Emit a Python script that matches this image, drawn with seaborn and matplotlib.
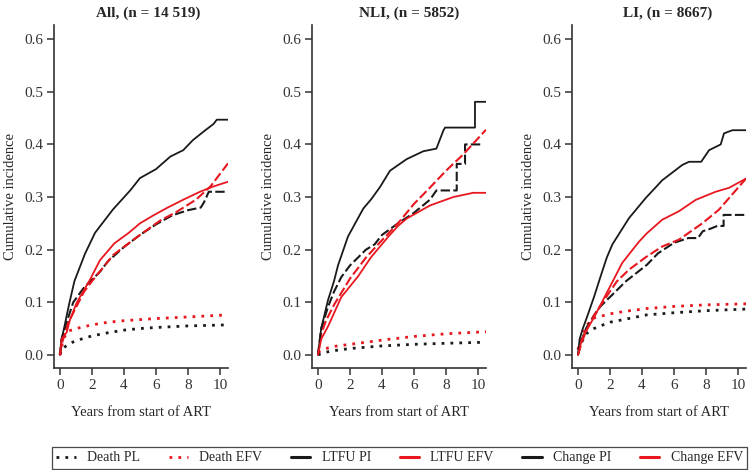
import matplotlib
matplotlib.use('Agg')
import matplotlib.pyplot as plt
from matplotlib.lines import Line2D
import numpy as np
import pandas as pd
import seaborn as sns

# ---- data ----
panel_titles = ['All, (n = 14 519)', 'NLI, (n = 5852)', 'LI, (n = 8667)']
series_names = ['Death PL', 'Death EFV', 'LTFU PI', 'LTFU EFV', 'Change PI', 'Change EFV']

# All
all_death_pi_t = [0, 0.1, 0.5, 1, 2, 3, 4, 5, 6, 8, 10.5]
all_death_pi_v = [0, 0.01, 0.02, 0.027, 0.036, 0.042, 0.047, 0.05, 0.052, 0.055, 0.057]
all_death_efv_t = [0, 0.2, 0.5, 1, 2, 3, 4, 5, 6, 8, 10.5]
all_death_efv_v = [0, 0.03, 0.045, 0.05, 0.057, 0.062, 0.065, 0.067, 0.069, 0.072, 0.076]
all_ltfu_pi_t = [0, 0.1, 0.25, 0.5, 0.83, 1.5, 2.5, 3, 4, 5, 6, 7, 8, 8.8, 9.0, 9.3, 10.5]
all_ltfu_pi_v = [0, 0.03, 0.045, 0.07, 0.10, 0.128, 0.158, 0.178, 0.205, 0.228, 0.248, 0.265, 0.275, 0.28, 0.29, 0.31, 0.31]
all_ltfu_efv_t = [0, 0.1, 0.25, 0.5, 1, 1.5, 2, 3.33, 5, 6.25, 7.3, 8.5, 9.4, 10.5]
all_ltfu_efv_v = [0, 0.02, 0.035, 0.06, 0.09, 0.12, 0.14, 0.19, 0.228, 0.255, 0.272, 0.295, 0.32, 0.364]
all_change_pi_t = [0, 0.1, 0.25, 0.56, 0.9, 1.56, 2.19, 3.3, 4.4, 5.0, 6.0, 6.9, 7.7, 8.3, 9.0, 9.6, 9.8, 10.5]
all_change_pi_v = [0, 0.03, 0.05, 0.095, 0.14, 0.192, 0.232, 0.276, 0.313, 0.336, 0.353, 0.377, 0.389, 0.408, 0.425, 0.439, 0.447, 0.447]
all_change_efv_t = [0, 0.1, 0.42, 0.625, 1.04, 1.875, 2.5, 3.4, 4.3, 5.0, 5.83, 6.67, 7.71, 8.75, 9.58, 10.5]
all_change_efv_v = [0, 0.03, 0.043, 0.067, 0.099, 0.143, 0.18, 0.212, 0.232, 0.25, 0.265, 0.279, 0.295, 0.310, 0.320, 0.329]

# NLI
nli_death_pi_t = [0, 0.5, 1, 2, 4, 6, 8, 10.5]
nli_death_pi_v = [0, 0.005, 0.008, 0.012, 0.017, 0.02, 0.022, 0.024]
nli_death_efv_t = [0, 0.5, 1, 2, 4, 6, 8, 10.5]
nli_death_efv_v = [0.005, 0.012, 0.016, 0.02, 0.028, 0.035, 0.04, 0.044]
nli_ltfu_pi_t = [0, 0.2, 0.625, 1, 1.46, 2, 3, 3.54, 4, 5, 6, 7, 7.4, 8.67, 8.67, 9.19, 9.19, 10.33]
nli_ltfu_pi_v = [0, 0.05, 0.091, 0.12, 0.148, 0.17, 0.2, 0.21, 0.228, 0.25, 0.27, 0.295, 0.3125, 0.3125, 0.363, 0.363, 0.40, 0.40]
nli_ltfu_efv_t = [0, 0.2, 0.5, 1, 2, 3, 4, 5, 6, 7, 8, 9.08, 10.5]
nli_ltfu_efv_v = [0, 0.04, 0.065, 0.095, 0.145, 0.185, 0.218, 0.25, 0.287, 0.318, 0.35, 0.381, 0.428]
nli_change_pi_t = [0, 0.2, 0.625, 1.0, 1.25, 1.875, 2.83, 3.33, 3.875, 4.5, 5.54, 6.58, 7.4, 7.83, 7.94, 9.81, 9.81, 10.5]
nli_change_pi_v = [0, 0.05, 0.104, 0.14, 0.17, 0.225, 0.278, 0.296, 0.319, 0.35, 0.372, 0.387, 0.392, 0.426, 0.432, 0.432, 0.481, 0.481]
nli_change_efv_t = [0, 0.2, 0.625, 1.46, 2.5, 3.3, 4.375, 5, 5.54, 7.0, 8.46, 9.7, 10.5]
nli_change_efv_v = [0, 0.03, 0.054, 0.11, 0.149, 0.185, 0.224, 0.245, 0.259, 0.284, 0.30, 0.308, 0.308]

# LI
li_death_pi_t = [0, 0.5, 1, 1.4, 2, 3, 4.3, 6, 8, 10.5]
li_death_pi_v = [0.01, 0.04, 0.05, 0.055, 0.062, 0.068, 0.076, 0.08, 0.084, 0.087]
li_death_efv_t = [0, 0.5, 1, 2, 3, 4.3, 6, 8, 10.5]
li_death_efv_v = [0.01, 0.055, 0.07, 0.078, 0.083, 0.088, 0.092, 0.095, 0.097]
li_ltfu_pi_t = [0, 0.25, 0.5, 1, 1.4, 2, 3, 4.3, 5, 6, 6.9, 7.5, 7.8, 8.3, 8.7, 9.1, 9.1, 10.5]
li_ltfu_pi_v = [0, 0.03, 0.05, 0.075, 0.092, 0.11, 0.14, 0.171, 0.193, 0.213, 0.222, 0.222, 0.235, 0.24, 0.245, 0.245, 0.266, 0.266]
li_ltfu_efv_t = [0, 0.25, 0.5, 1, 1.94, 2.44, 3.19, 4.3, 5.27, 6.31, 7.77, 8.81, 10.5]
li_ltfu_efv_v = [0, 0.025, 0.045, 0.075, 0.118, 0.14, 0.162, 0.187, 0.206, 0.219, 0.25, 0.276, 0.335]
li_change_pi_t = [0, 0.1, 0.3, 0.6, 1.0, 1.4, 1.8, 2.15, 3.19, 4.23, 5.27, 6.52, 6.94, 7.7, 8.19, 8.92, 9.125, 9.65, 10.5]
li_change_pi_v = [0, 0.03, 0.05, 0.075, 0.11, 0.148, 0.185, 0.21, 0.26, 0.298, 0.332, 0.361, 0.367, 0.367, 0.389, 0.40, 0.421, 0.427, 0.427]
li_change_efv_t = [0, 0.25, 0.5, 0.98, 1.8, 2.77, 3.81, 4.3, 5.27, 6.31, 7.35, 8.6, 9.44, 10.5]
li_change_efv_v = [0, 0.03, 0.045, 0.07, 0.118, 0.175, 0.215, 0.231, 0.257, 0.273, 0.2945, 0.310, 0.3175, 0.335]

panel_series = [
    [(all_death_pi_t, all_death_pi_v), (all_death_efv_t, all_death_efv_v),
     (all_ltfu_pi_t, all_ltfu_pi_v), (all_ltfu_efv_t, all_ltfu_efv_v),
     (all_change_pi_t, all_change_pi_v), (all_change_efv_t, all_change_efv_v)],
    [(nli_death_pi_t, nli_death_pi_v), (nli_death_efv_t, nli_death_efv_v),
     (nli_ltfu_pi_t, nli_ltfu_pi_v), (nli_ltfu_efv_t, nli_ltfu_efv_v),
     (nli_change_pi_t, nli_change_pi_v), (nli_change_efv_t, nli_change_efv_v)],
    [(li_death_pi_t, li_death_pi_v), (li_death_efv_t, li_death_efv_v),
     (li_ltfu_pi_t, li_ltfu_pi_v), (li_ltfu_efv_t, li_ltfu_efv_v),
     (li_change_pi_t, li_change_pi_v), (li_change_efv_t, li_change_efv_v)],
]

# ---- styles ----
BLACK = '#1a1a1a'
RED = '#e8171f'
colors = [BLACK, RED, BLACK, RED, BLACK, RED]
dotted = (0, (1.0, 2.2))
dashed = (0, (4.5, 1.6))
styles = [dotted, dotted, dashed, dashed, '-', '-']
widths = [2.0, 2.0, 1.5, 1.5, 1.3, 1.3]

sns.set_style('white')
plt.rcParams['font.family'] = ['Liberation Serif', 'DejaVu Serif']
plt.rcParams['font.size'] = 10

fig = plt.figure(figsize=(7.49, 4.70), dpi=100)
lefts = [54 / 749, 312 / 749, 572 / 749]
title_x = [0.54, 0.56, 0.55]
axw = 174 / 749
bottom = 1 - 368 / 470
axh = (368 - 25) / 470

for p, title in enumerate(panel_titles):
    ax = fig.add_axes([lefts[p], bottom, axw, axh])
    for s, name in enumerate(series_names):
        t, v = panel_series[p][s]
        df = pd.DataFrame({'t': t, 'v': v})
        sns.lineplot(data=df, x='t', y='v', ax=ax, color=colors[s],
                     linestyle=styles[s], linewidth=widths[s],
                     estimator=None, sort=False)
    ax.set_xlim(-0.375, 10.5)
    ax.set_ylim(-0.025, 0.627)
    ax.set_xticks(np.arange(0, 11, 2))
    ax.set_yticks(np.arange(0, 0.61, 0.1))
    ax.set_yticklabels(['%.1f' % y for y in np.arange(0, 0.61, 0.1)])
    sns.despine(ax=ax)
    for side in ['left', 'bottom']:
        ax.spines[side].set_color('#333333')
        ax.spines[side].set_linewidth(1.2)
    ax.tick_params(axis='both', direction='out', length=5, width=1.1,
                   color='#333333', labelsize=11, labelcolor='#333333', pad=3,
                   left=True, bottom=True)
    ax.set_xlabel('Years from start of ART', fontsize=10.5, labelpad=10)
    ax.set_ylabel('Cumulative incidence', fontsize=10.5, labelpad=5)
    ax.set_title(title, fontsize=11, fontweight='bold', pad=6, x=title_x[p])

handles = [Line2D([0], [0], color=BLACK, linestyle=dotted, linewidth=2.0),
           Line2D([0], [0], color=RED, linestyle=dotted, linewidth=2.0),
           Line2D([0], [0], color=BLACK, linewidth=2.2),
           Line2D([0], [0], color=RED, linewidth=2.2),
           Line2D([0], [0], color=BLACK, linewidth=2.2),
           Line2D([0], [0], color=RED, linewidth=2.2)]
leg = fig.legend(handles, series_names, loc='lower left',
                 bbox_to_anchor=(52 / 749, 0.003, (747 - 52) / 749, 0.04),
                 mode='expand', ncol=6, frameon=True, fancybox=False,
                 fontsize=10, handlelength=1.4, handletextpad=0.8,
                 borderpad=0.3, borderaxespad=0)
leg.get_frame().set_edgecolor(BLACK)
leg.get_frame().set_linewidth(0.9)

fig.savefig('out.png', dpi=100)
